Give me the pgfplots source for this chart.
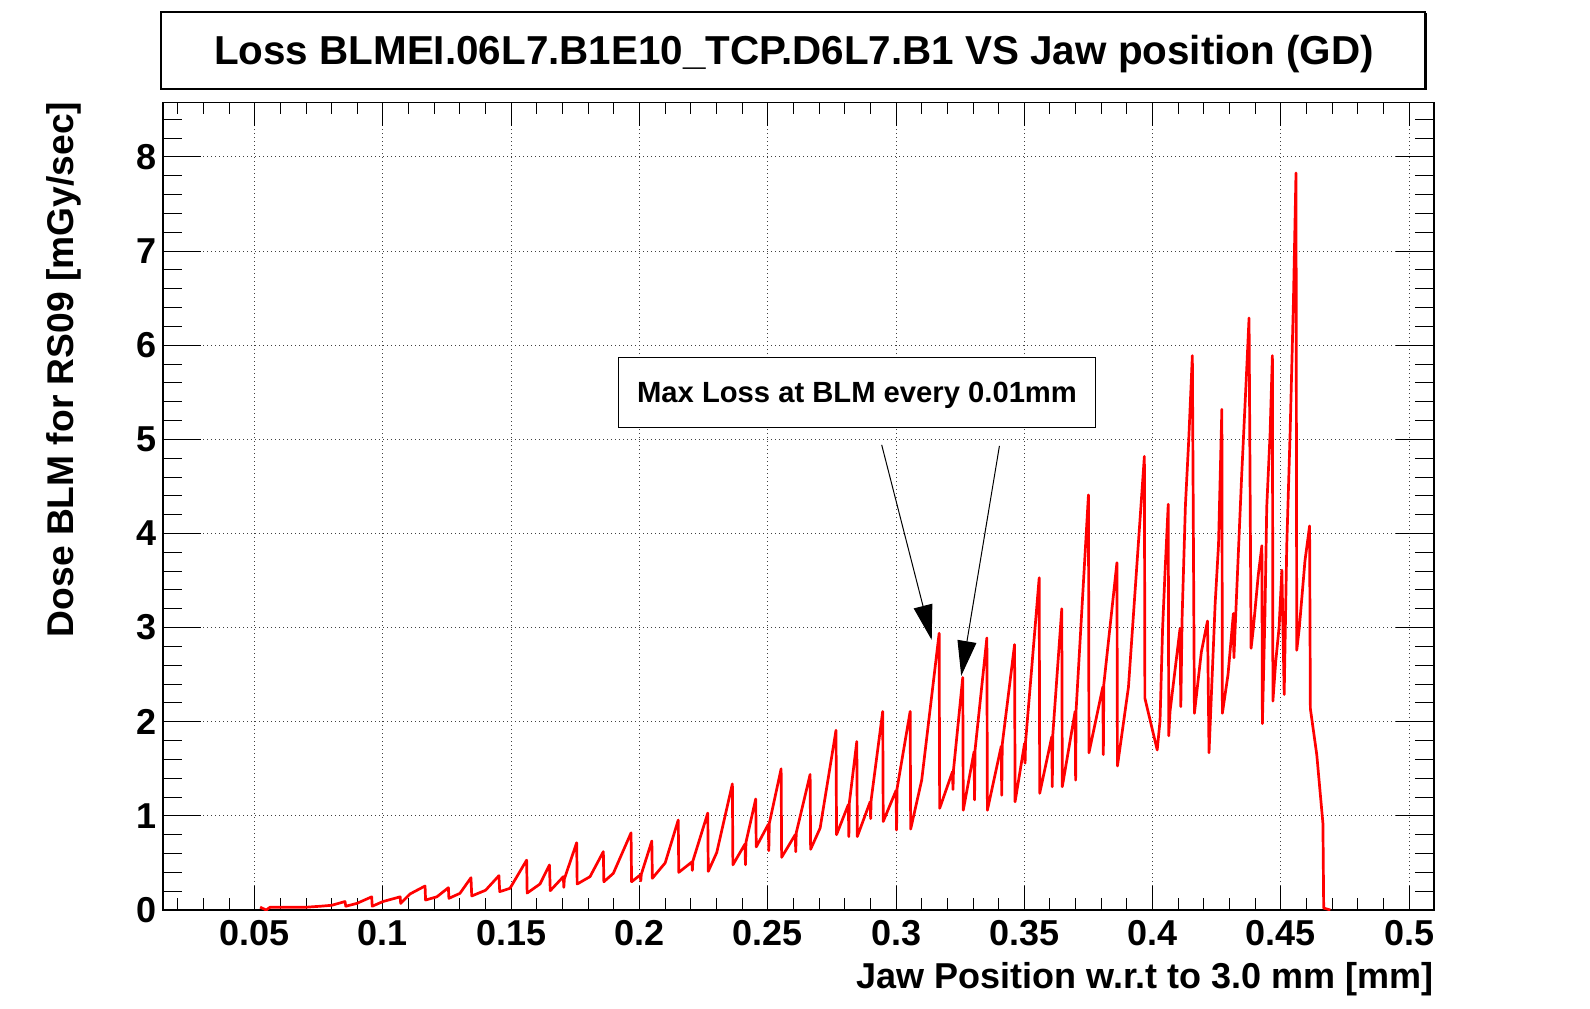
\documentclass[border=0pt]{standalone}
\usepackage{pgfplots}
\pgfplotsset{compat=1.18}
\usepackage{pgfplotstable}
\usepackage{fontspec}
\setmainfont{Liberation Sans}
\usetikzlibrary{arrows.meta}

\pgfplotstableread{
x y
0.0521 0.03
0.0545 0.00
0.0560 0.03
0.0600 0.03
0.0703 0.03
0.0755 0.04
0.0800 0.05
0.0852 0.09
0.0855 0.04
0.0898 0.07
0.0956 0.14
0.0958 0.04
0.1000 0.09
0.1067 0.14
0.1069 0.07
0.1105 0.17
0.1164 0.255
0.1166 0.106
0.1210 0.14
0.1255 0.237
0.1257 0.124
0.1300 0.177
0.1343 0.343
0.1346 0.149
0.1400 0.21
0.1452 0.365
0.1455 0.195
0.1495 0.23
0.1560 0.53
0.1562 0.18
0.1612 0.276
0.1649 0.478
0.1652 0.205
0.1703 0.354
0.1705 0.24
0.1707 0.33
0.1755 0.715
0.1757 0.276
0.1807 0.354
0.1859 0.62
0.1861 0.30
0.1898 0.39
0.1967 0.82
0.1969 0.30
0.2002 0.37
0.2005 0.31
0.2007 0.38
0.2048 0.733
0.2050 0.337
0.2100 0.50
0.2151 0.956
0.2153 0.40
0.2204 0.51
0.2206 0.42
0.2208 0.52
0.2266 1.03
0.2268 0.41
0.2301 0.61
0.2362 1.34
0.2364 0.48
0.2411 0.70
0.2413 0.48
0.2415 0.72
0.2453 1.18
0.2455 0.67
0.2502 0.91
0.2504 0.63
0.2506 0.92
0.2552 1.50
0.2554 0.56
0.2607 0.80
0.2609 0.62
0.2611 0.82
0.2665 1.44
0.2667 0.645
0.2704 0.87
0.2766 1.91
0.2768 0.80
0.2814 1.12
0.2816 0.78
0.2818 1.14
0.2847 1.79
0.2849 0.78
0.2899 1.15
0.2901 0.97
0.2903 1.17
0.2948 2.11
0.2950 0.94
0.3000 1.27
0.3002 0.85
0.3004 1.29
0.3055 2.11
0.3057 0.86
0.3100 1.38
0.3168 2.94
0.3170 1.08
0.3220 1.47
0.3222 1.28
0.3224 1.49
0.3260 2.47
0.3262 1.06
0.3304 1.68
0.3306 1.17
0.3308 1.70
0.3354 2.89
0.3356 1.06
0.3410 1.74
0.3412 1.22
0.3414 1.76
0.3462 2.82
0.3464 1.15
0.3501 1.77
0.3503 1.56
0.3505 1.79
0.3558 3.53
0.3560 1.24
0.3607 1.84
0.3609 1.31
0.3611 1.86
0.3646 3.20
0.3648 1.31
0.3698 2.11
0.3700 1.38
0.3702 2.13
0.3750 4.41
0.3752 1.67
0.3806 2.37
0.3808 1.65
0.3810 2.40
0.3861 3.69
0.3863 1.53
0.3906 2.37
0.3968 4.82
0.3970 2.25
0.4018 1.70
0.4029 2.01
0.4039 2.99
0.4048 3.56
0.4061 4.31
0.4063 1.85
0.4068 2.11
0.4107 2.99
0.4110 2.16
0.4115 3.10
0.4128 4.30
0.4141 5.00
0.4155 5.89
0.4163 2.09
0.4190 2.74
0.4214 3.07
0.4220 1.67
0.4227 2.14
0.4244 3.26
0.4257 3.88
0.4270 5.32
0.4272 2.09
0.4294 2.50
0.4315 3.15
0.4317 2.68
0.4328 3.39
0.4347 4.60
0.4367 5.75
0.4376 6.29
0.4384 2.78
0.4393 3.00
0.4412 3.56
0.4426 3.87
0.4428 1.98
0.4438 3.14
0.4445 4.28
0.4458 5.06
0.4467 5.89
0.4469 2.22
0.4480 2.64
0.4493 3.00
0.4504 3.61
0.4513 2.29
0.4523 3.87
0.4536 5.06
0.4549 6.46
0.4559 7.83
0.4562 2.76
0.4572 3.00
0.4594 3.71
0.4612 4.08
0.4615 2.14
0.4640 1.65
0.4664 0.92
0.4667 0.02
0.4693 0.00
}\lossdata

\begin{document}
\begin{tikzpicture}
\useasboundingbox (0pt,0pt) rectangle (795pt,504pt);
% title box
\draw[line width=0.6pt] (80.5pt,459.5pt) rectangle (712.5pt,498pt);
\draw[line width=1.1pt] (81pt,459.3pt) -- (712.7pt,459.3pt) -- (712.7pt,497.6pt);
\node[anchor=base, inner sep=0pt, font=\bfseries\fontsize{20.2}{24}\selectfont] at (397pt,471.5pt)
  {Loss BLMEI.06L7.B1E10\_TCP.D6L7.B1 VS Jaw position (GD)};

\begin{axis}[
  at={(81.5pt,49pt)}, anchor=south west,
  scale only axis, width=635.5pt, height=403.8pt,
  xmin=0.01425, xmax=0.5097, ymin=0, ymax=8.58,
  xtick={0,0.05,0.1,0.15,0.2,0.25,0.3,0.35,0.4,0.45,0.5,0.55},
  minor x tick num=4,
  ytick={0,1,2,3,4,5,6,7,8,9},
  minor y tick num=4,
  scaled ticks=false,
  xmajorgrids, ymajorgrids,
  major grid style={black!75, line width=0.5pt, dash pattern=on 0.6pt off 1.4pt},
  tick align=inside,
  major tick length=12pt, minor tick length=6pt,
  every tick/.style={black, line width=0.5pt},
  axis line style={line width=0.6pt},
  /pgf/number format/assume math mode=true,
  xticklabel={\pgfmathprintnumber[fixed,precision=2]{\tick}},
  yticklabel={\pgfmathprintnumber[fixed,precision=0]{\tick}},
  ticklabel style={font=\bfseries\fontsize{18}{20}\selectfont},
  xticklabel style={anchor=north, inner sep=0pt, yshift=-5pt},
  yticklabel style={anchor=east, inner sep=0pt, xshift=-3pt},
]
\addplot[red, line width=1.35pt, line join=round] table[x=x,y=y] {\lossdata};
\draw[fill=white, line width=0.5pt] (axis cs:0.19175,5.874) rectangle (axis cs:0.37788,5.13);
\node[anchor=base, inner sep=0pt, font=\bfseries\fontsize{14.6}{16}\selectfont] at (axis cs:0.2848,5.395) {Max Loss at BLM every 0.01mm};
\draw[line width=0.5pt, -{Triangle[length=17.5pt,width=9.5pt]}] (axis cs:0.2944,4.942) -- (axis cs:0.3139,2.869);
\draw[line width=0.5pt, -{Triangle[length=17.5pt,width=9.5pt]}] (axis cs:0.3403,4.931) -- (axis cs:0.3254,2.487);
\end{axis}

\begin{axis}[
  at={(81.5pt,49pt)}, anchor=south west,
  scale only axis, width=635.5pt, height=403.8pt,
  xmin=0.01425, xmax=0.5097, ymin=0, ymax=8.58,
  axis line style={draw=none},
  xtick=\empty,
  ytick={0,1,2,3,4,5,6,7,8,9},
  minor y tick num=4,
  yticklabels={},
  tick align=inside,
  major tick length=19pt, minor tick length=9.5pt,
  every tick/.style={black, line width=0.5pt},
]
\end{axis}

\node[anchor=base east, inner sep=0pt, font=\bfseries\fontsize{18}{20}\selectfont] at (717pt,10pt)
  {Jaw Position w.r.t to 3.0 mm [mm]};
\node[rotate=90, anchor=base east, inner sep=0pt, font=\bfseries\fontsize{18.6}{20}\selectfont] at (36.5pt,453.3pt)
  {Dose BLM for RS09 [mGy/sec]};
\end{tikzpicture}
\end{document}
